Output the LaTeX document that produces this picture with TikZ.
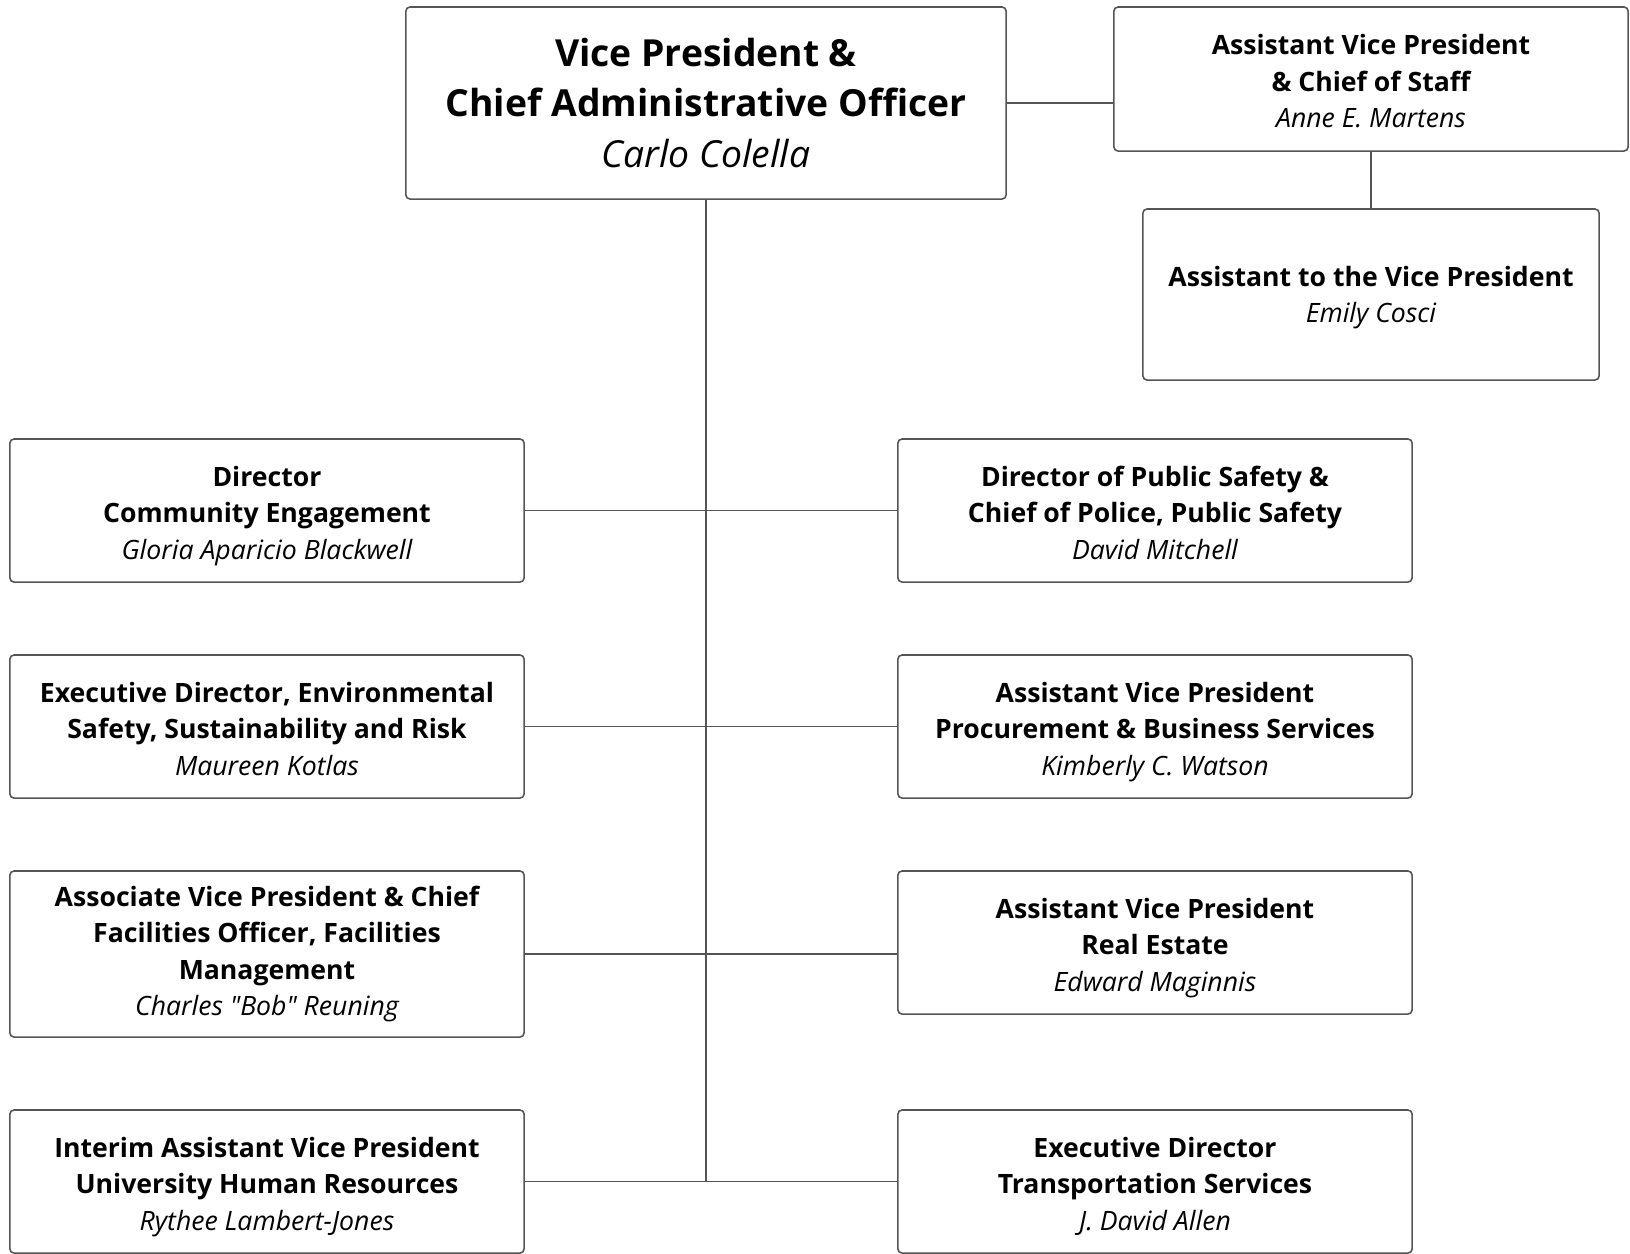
\documentclass[tikz,border=0pt]{standalone}
\usepackage{fontspec}
\setmainfont{Open Sans}[Ligatures=TeXOff]
\usepackage{xcolor}
\definecolor{boxline}{HTML}{555555}

\tikzset{
  unit/.style={draw=boxline, line width=0.45pt, rounded corners=1.2pt, align=center,
    inner sep=0pt, font=\fontsize{7.57}{10.4}\selectfont\bfseries,
    minimum width=5.14cm, minimum height=1.43cm},
  head/.style={unit, font=\fontsize{10.6}{14.3}\selectfont\bfseries,
    minimum width=6cm, minimum height=1.92cm},
  link/.style={draw=boxline, line width=0.45pt},
}
\newcommand{\who}[1]{{\mdseries\itshape #1\rule[-0.25em]{0pt}{0.25em}}}
\newcommand{\hstrut}{\rule{0pt}{1.18em}}

\begin{document}
\begin{tikzpicture}[x=0.01cm,y=-0.01cm]
\useasboundingbox (0,0) rectangle (1630,1253);
% top of the chart
\node[head] (vp) at (706,103) {\rule{0pt}{0.99em}Vice President \&\\Chief Administrative Officer\\\who{Carlo Colella}};
\node[unit, minimum height=1.44cm] (cos) at (1371,79) {\hstrut Assistant Vice President\\\& Chief of Staff\\\who{Anne E. Martens}};
\node[unit, minimum width=4.56cm, minimum height=1.71cm] (asst) at (1371,294.5) {\rule{0pt}{1em}Assistant to the Vice President\\\who{Emily Cosci}};
% left column
\node[unit] (l1) at (267,510.5) {\hstrut Director\\Community Engagement\\\who{Gloria Aparicio Blackwell}};
\node[unit] (l2) at (267,726.5) {\hstrut Executive Director, Environmental\\Safety, Sustainability and Risk\\\who{Maureen Kotlas}};
\node[unit, minimum height=1.66cm] (l3) at (267,954) {Associate Vice President \& Chief\\Facilities Officer, Facilities\\Management\\\who{Charles "Bob" Reuning}};
\node[unit] (l4) at (267,1181.5) {\hstrut Interim Assistant Vice President\\University Human Resources\\\who{Rythee Lambert-Jones}};
% right column
\node[unit] (r1) at (1155,510.5) {\hstrut Director of Public Safety \&\\Chief of Police, Public Safety\\\who{David Mitchell}};
\node[unit] (r2) at (1155,726.5) {\hstrut Assistant Vice President\\Procurement \& Business Services\\\who{Kimberly C. Watson}};
\node[unit] (r3) at (1155,942.5) {\hstrut Assistant Vice President\\Real Estate\\\who{Edward Maginnis}};
\node[unit] (r4) at (1155,1181.5) {\hstrut Executive Director\\Transportation Services\\\who{J. David Allen}};
% lines
\draw[link] (vp.east) -- (cos.west |- vp.east);
\draw[link] (cos.south) -- (asst.north);
\draw[link] (vp.south) -- (vp.south |- l4.east);
\draw[link] (l1.east) -- (r1.west);
\draw[link] (l2.east) -- (r2.west);
\draw[link] (l3.east) -- (l3.east -| r3.west);
\draw[link] (l4.east) -- (r4.west);
\end{tikzpicture}
\end{document}
